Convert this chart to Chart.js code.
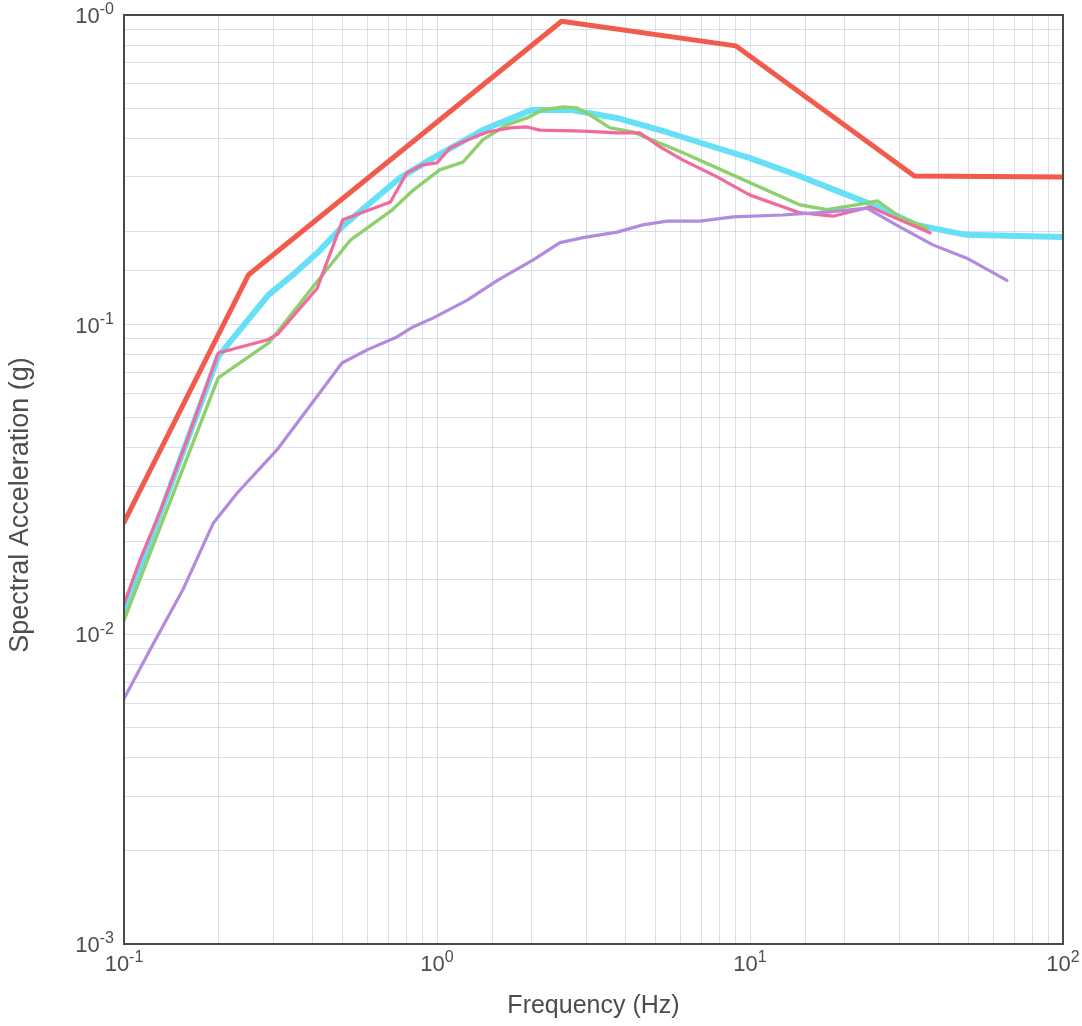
<!DOCTYPE html>
<html>
<head>
<meta charset="utf-8">
<script src="https://cdn.jsdelivr.net/npm/chart.js@4.4.1/dist/chart.umd.min.js"></script>
<style>
  html, body { margin: 0; padding: 0; background: #ffffff; }
  #wrap { width: 1082px; height: 1026px; position: relative; }
</style>
</head>
<body>
<div id="wrap"><canvas id="c" width="1082" height="1026"></canvas></div>
<script>
// ---- Data ----
const redF = [0.1, 0.25, 2.5, 9.0, 33.5, 100];
const redA = [0.023, 0.145, 0.955, 0.795, 0.302, 0.300];

const cyanF = [0.1, 0.2, 0.29, 0.347, 0.423, 0.5, 0.611, 0.762, 0.97, 1.4, 2.0, 2.7, 3.75, 5.4, 7.85, 10, 14.4, 19.4, 24.7, 34, 49, 100];
const cyanA = [0.0118, 0.079, 0.125, 0.145, 0.174, 0.208, 0.247, 0.298, 0.345, 0.425, 0.493, 0.493, 0.465, 0.419, 0.372, 0.345, 0.302, 0.268, 0.244, 0.21, 0.195, 0.192];

const greenF = [0.1, 0.2, 0.29, 0.41, 0.53, 0.72, 0.84, 1.02, 1.21, 1.40, 1.67, 1.94, 2.18, 2.53, 2.80, 3.15, 3.57, 4.23, 4.69, 6.11, 8.83, 14.4, 17.6, 23.6, 25.5, 30.1, 36.8];
const greenA = [0.0111, 0.0673, 0.0873, 0.136, 0.188, 0.235, 0.272, 0.316, 0.335, 0.395, 0.442, 0.465, 0.494, 0.505, 0.501, 0.469, 0.432, 0.419, 0.401, 0.359, 0.304, 0.244, 0.235, 0.247, 0.251, 0.223, 0.205];

const pinkF = [0.1, 0.1125, 0.13, 0.159, 0.2, 0.286, 0.31, 0.414, 0.50, 0.71, 0.80, 0.90, 1.0, 1.10, 1.25, 1.45, 1.71, 1.94, 2.13, 2.93, 3.76, 4.45, 5.16, 6.11, 7.85, 10, 14.4, 18.4, 24.2, 30.1, 37.6];
const pinkA = [0.0125, 0.0174, 0.0247, 0.0424, 0.081, 0.0892, 0.0933, 0.131, 0.218, 0.249, 0.309, 0.328, 0.333, 0.372, 0.395, 0.419, 0.432, 0.435, 0.425, 0.422, 0.416, 0.416, 0.375, 0.340, 0.300, 0.262, 0.230, 0.224, 0.240, 0.218, 0.198];

const purpleF = [0.1, 0.121, 0.154, 0.193, 0.23, 0.308, 0.384, 0.497, 0.598, 0.745, 0.838, 0.97, 1.25, 1.56, 2.03, 2.47, 2.93, 3.76, 4.55, 5.43, 6.92, 8.83, 12.7, 17.6, 23.6, 30.1, 38.4, 49.3, 66.2];
const purpleA = [0.0062, 0.0089, 0.0139, 0.0229, 0.0286, 0.0394, 0.053, 0.0752, 0.0829, 0.0913, 0.0983, 0.105, 0.120, 0.139, 0.162, 0.184, 0.191, 0.199, 0.210, 0.216, 0.216, 0.223, 0.226, 0.231, 0.238, 0.207, 0.181, 0.164, 0.139];

// Tick labels (base 10 with exponent)
const xTickValues = [0.1, 1, 10, 100];
const xTickExps = ['-1', '0', '1', '2'];
const yTickValues = [0.001, 0.01, 0.1, 1];
const yTickExps = ['-3', '-2', '-1', '-0'];

const xTitle = 'Frequency (Hz)';
const yTitle = 'Spectral Acceleration (g)';

function pts(fs, as) { return fs.map((f, i) => ({ x: f, y: as[i] })); }

const FONT = '"Liberation Sans", Arial, Helvetica, sans-serif';
const TXT = '#4d4d4d';

const tickLabelPlugin = {
  id: 'tickLabels',
  afterDraw(chart) {
    const ctx = chart.ctx;
    const xs = chart.scales.x, ys = chart.scales.y;
    const a = chart.chartArea;
    ctx.save();
    // frame
    ctx.strokeStyle = '#4a4a4a';
    ctx.lineWidth = 2;
    ctx.strokeRect(a.left, a.top, a.right - a.left, a.bottom - a.top);
    ctx.fillStyle = TXT;
    ctx.textBaseline = 'middle';
    const bigFont = '22px ' + FONT, smallFont = '16px ' + FONT;
    // y tick labels
    yTickValues.forEach((v, i) => {
      const py = ys.getPixelForValue(v);
      const rightX = a.left - 10;
      ctx.font = smallFont;
      const ew = ctx.measureText(yTickExps[i]).width;
      ctx.textAlign = 'right';
      ctx.fillText(yTickExps[i], rightX, py - 5);
      ctx.font = bigFont;
      ctx.fillText('10', rightX - ew, py + 2);
    });
    // x tick labels
    xTickValues.forEach((v, i) => {
      const px = xs.getPixelForValue(v);
      ctx.font = bigFont;
      const bw = ctx.measureText('10').width;
      ctx.font = smallFont;
      const ew = ctx.measureText(xTickExps[i]).width;
      const startX = px - (bw + ew) / 2;
      ctx.textAlign = 'left';
      ctx.font = bigFont;
      ctx.fillText('10', startX, a.bottom + 21);
      ctx.font = smallFont;
      ctx.fillText(xTickExps[i], startX + bw, a.bottom + 14);
    });
    // y axis title (placed as in the reference, slightly below centre)
    ctx.save();
    ctx.translate(21, 505);
    ctx.rotate(-Math.PI / 2);
    ctx.textAlign = 'center';
    ctx.textBaseline = 'middle';
    ctx.font = '27px ' + FONT;
    ctx.fillText(yTitle, 0, 0);
    ctx.restore();
    ctx.restore();
  }
};

const gridColor = 'rgba(168,176,212,0.42)';

new Chart(document.getElementById('c'), {
  type: 'line',
  data: {
    datasets: [
      { label: 'Envelope', data: pts(redF, redA), borderColor: '#f25a4c', borderWidth: 5 },
      { label: 'Purple', data: pts(purpleF, purpleA), borderColor: '#b28ade', borderWidth: 3.2 },
      { label: 'Pink', data: pts(pinkF, pinkA), borderColor: '#f06a9c', borderWidth: 3.2 },
      { label: 'Green', data: pts(greenF, greenA), borderColor: '#8ed06c', borderWidth: 3.4 },
      { label: 'Cyan', data: pts(cyanF, cyanA), borderColor: '#66e0f6', borderWidth: 6 }
    ]
  },
  options: {
    responsive: false,
    animation: false,
    layout: { padding: { left: 124, right: 19, top: 15, bottom: 0 } },
    elements: {
      point: { radius: 0, hoverRadius: 0 },
      line: { tension: 0, fill: false, borderJoinStyle: 'round', borderCapStyle: 'round' }
    },
    plugins: { legend: { display: false }, tooltip: { enabled: false } },
    scales: {
      x: {
        type: 'logarithmic', min: 0.1, max: 100,
        ticks: { display: false },
        grid: { color: gridColor, lineWidth: 1, drawTicks: false },
        border: { display: false },
        title: { display: true, text: xTitle, color: TXT, font: { family: FONT, size: 25 }, padding: { top: 47, bottom: 5 } }
      },
      y: {
        type: 'logarithmic', min: 0.001, max: 1,
        ticks: { display: false },
        grid: { color: gridColor, lineWidth: 1, drawTicks: false },
        border: { display: false },
        title: { display: false, text: yTitle }
      }
    }
  },
  plugins: [tickLabelPlugin]
});
</script>
</body>
</html>
